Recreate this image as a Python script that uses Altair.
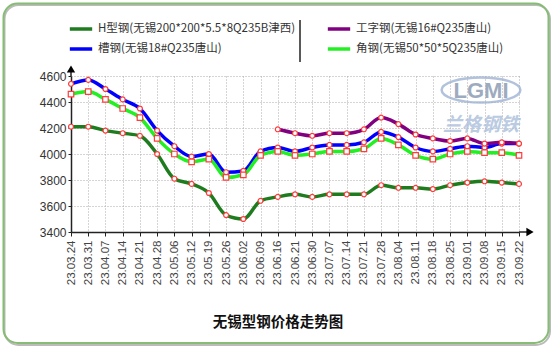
import altair as alt
import pandas as pd

dates = ["23.03.24", "23.03.31", "23.04.07", "23.04.14", "23.04.21", "23.04.28",
         "23.05.06", "23.05.12", "23.05.19", "23.05.26", "23.06.02", "23.06.09",
         "23.06.16", "23.06.21", "23.06.30", "23.07.07", "23.07.14", "23.07.21",
         "23.07.28", "23.08.04", "23.08.11", "23.08.18", "23.08.25", "23.09.01",
         "23.09.08", "23.09.15", "23.09.22"]

h_beam = [4210, 4210, 4180, 4160, 4140, 4000, 3810, 3770, 3700, 3530, 3500, 3640,
          3670, 3690, 3670, 3690, 3690, 3690, 3760, 3740, 3740, 3730, 3760, 3780,
          3790, 3780, 3770]
channel = [4540, 4570, 4500, 4420, 4350, 4180, 4060, 3980, 4000, 3860, 3870, 4020,
           4050, 4020, 4050, 4070, 4070, 4090, 4170, 4130, 4050, 4020, 4040, 4060,
           4050, 4080, 4080]
i_beam = [None] * 12 + [4190, 4160, 4140, 4160, 4160, 4190, 4280, 4230, 4150,
                        4120, 4100, 4120, 4080, 4090, 4080]
angle = [4460, 4480, 4420, 4350, 4280, 4120, 4000, 3940, 3960, 3820, 3840, 3990,
         4020, 3990, 4000, 4020, 4020, 4040, 4120, 4070, 3990, 3960, 4000, 4020,
         4010, 4010, 3990]

# order chosen so the two-column legend reads like the reference
series_names = ["H型钢(无锡200*200*5.5*8Q235B津西)", "槽钢(无锡18#Q235唐山)",
                "工字钢(无锡16#Q235唐山)", "角钢(无锡50*50*5Q235唐山)"]
series_values = [h_beam, channel, i_beam, angle]
square_series = ["角钢(无锡50*50*5Q235唐山)"]
colors = ["#1E7B1E", "#0000FF", "#800080", "#22F022"]
y_ticks = [3400, 3600, 3800, 4000, 4200, 4400, 4600]
title_text = "无锡型钢价格走势图"

rows = []
for name, vals in zip(series_names, series_values):
    for d, v in zip(dates, vals):
        if v is not None:
            rows.append({"date": d, "series": name, "sq": name in square_series,
                         "price": v})
df = pd.DataFrame(rows)

W, H = 448, 156
LABEL_FONT = "Liberation Sans"
CJK = "Noto Sans CJK SC"

base = alt.Chart(df).encode(
    x=alt.X("date:O", sort=dates, title=None,
            scale=alt.Scale(type="point", padding=0),
            axis=alt.Axis(labelAngle=-90, labelFontSize=11.5, labelFont=LABEL_FONT,
                          labelColor="#444", labelPadding=4, tickSize=4,
                          tickColor="#222", domainColor="#222", domainWidth=1.5,
                          grid=True, gridDash=[1, 2], gridColor="#aaa")),
    y=alt.Y("price:Q", title=None,
            scale=alt.Scale(domain=[3400, 4600], nice=False, zero=False),
            axis=alt.Axis(values=y_ticks, format="d", labelFontSize=12,
                          labelFont=LABEL_FONT, labelColor="#333", labelPadding=2,
                          tickSize=3, tickColor="#222", domainColor="#222",
                          domainWidth=1.5, grid=True, gridDash=[1, 2],
                          gridColor="#aaa")),
)

lines = base.mark_line(interpolate="monotone", strokeWidth=3.5).encode(
    color=alt.Color("series:N", sort=series_names,
                    scale=alt.Scale(domain=series_names, range=colors),
                    legend=alt.Legend(orient="none", legendX=-3, legendY=-60,
                                      columns=2, columnPadding=24, rowPadding=0,
                                      title=None, symbolType="stroke",
                                      symbolSize=500, symbolStrokeWidth=3.5,
                                      labelFont=CJK, labelFontSize=11.5,
                                      labelColor="#333", labelLimit=400,
                                      labelOffset=4)),
    detail="series:N",
)

pt_style = dict(filled=True, fill="white", stroke="#FF3B3B", strokeWidth=1.2,
                opacity=1)
circles = base.mark_point(shape="circle", size=24, **pt_style).transform_filter(
    alt.datum.sq == False)
squares = base.mark_point(shape="square", size=30, **pt_style).transform_filter(
    alt.datum.sq == True)

one = alt.Chart(pd.DataFrame({"k": [0]}))

frame_shadow = one.mark_rect(cornerRadius=14, fillOpacity=0, stroke="#bbbbbb",
                             strokeWidth=2).encode(
    x=alt.value(-66.5), x2=alt.value(479), y=alt.value(-71), y2=alt.value(269))
frame = one.mark_rect(cornerRadius=14, fillOpacity=0, stroke="#86BC74",
                      strokeWidth=2).encode(
    x=alt.value(-67.5), x2=alt.value(477.5), y=alt.value(-72.5), y2=alt.value(267))

sep = one.mark_rule(stroke="#222", strokeWidth=1.5).encode(
    x=alt.value(229), y=alt.value(-56), y2=alt.value(-14))

y_ext = one.mark_rule(stroke="#222", strokeWidth=1.5).encode(
    x=alt.value(0), y=alt.value(-5), y2=alt.value(0))
y_arrow = one.mark_point(shape="triangle-up", filled=True, color="#000", size=70,
                         opacity=1).encode(x=alt.value(0), y=alt.value(-7))
x_ext = one.mark_rule(stroke="#222", strokeWidth=1.5).encode(
    x=alt.value(W), x2=alt.value(W + 9), y=alt.value(H))
x_arrow = one.mark_point(shape="triangle-right", filled=True, color="#000", size=70,
                         opacity=1).encode(x=alt.value(W + 11), y=alt.value(H))

logo_ring = one.mark_point(shape="M-1,0A1,0.32,0,1,0,1,0A1,0.32,0,1,0,-1,0",
                           filled=False, stroke="#9FB4D4", strokeWidth=2.5,
                           size=6200, opacity=0.8).encode(
    x=alt.value(410), y=alt.value(14))
logo_text = one.mark_text(text="LGMI", font=LABEL_FONT, fontSize=22,
                          fontWeight="bold", color="#8E9DB5", opacity=0.85).encode(
    x=alt.value(410), y=alt.value(15))
logo_cn = one.mark_text(text="兰格钢铁", font=CJK, fontSize=19, fontStyle="italic",
                        fontWeight="bold", color="#AFC2DD", opacity=0.85).encode(
    x=alt.value(410), y=alt.value(49))

title_mark = one.mark_text(text=title_text, font=CJK, fontSize=14.5,
                           fontWeight="bold", color="#111").encode(
    x=alt.value(207), y=alt.value(247))

chart = alt.layer(
    frame_shadow, frame, logo_ring, logo_text, logo_cn,
    lines, circles, squares, sep, y_ext, y_arrow, x_ext, x_arrow, title_mark
).properties(
    width=W, height=H,
    autosize=alt.AutoSizeParams(type="none"),
    padding={"left": 71, "top": 76, "right": 35, "bottom": 119},
    background="white",
).configure_view(stroke=None)

chart.save("out.html", embed_options={"renderer": "svg", "actions": False})
